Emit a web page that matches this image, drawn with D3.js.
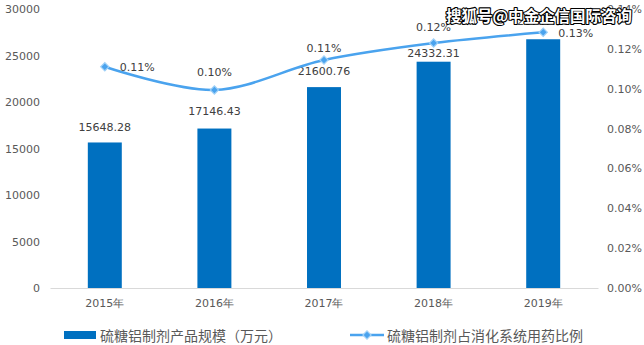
<!DOCTYPE html>
<html><head><meta charset="utf-8">
<script src="https://cdn.jsdelivr.net/npm/d3@7"></script>
<style>
html,body{margin:0;padding:0;background:#fff;}
svg{display:block;}
</style></head>
<body>
<svg id="chart" width="644" height="345"></svg>
<script>
const categories = ["2015年","2016年","2017年","2018年","2019年"];
const scaleValues = [15648.28, 17146.43, 21600.76, 24332.31, 26747.47];
const ratioValues = [0.111, 0.0994, 0.1144, 0.1229, 0.1283];
const ratioLabels = ["0.11%","0.10%","0.11%","0.12%","0.13%"];
const leftTicks = [0,5000,10000,15000,20000,25000,30000];
const rightTicks = [0,0.02,0.04,0.06,0.08,0.10,0.12,0.14];
const legendNames = ["硫糖铝制剂产品规模（万元）","硫糖铝制剂占消化系统用药比例"];
const watermark = "搜狐号@中金企信国际咨询";
const barLabelDy = [15, 17, 16, 8.5, 17.5];
const lineLabelDy = [0, 17, 12, 15.5, 0];

const svg = d3.select("#chart");
const numFont = "'DejaVu Sans', Verdana, sans-serif";
const cjkFont = "'Noto Sans CJK SC', 'Microsoft YaHei', sans-serif";
const barColor = "#0070C0", lineColor = "#4AA3EE";

const x = d3.scaleBand().domain(categories).range([50, 598]).paddingInner(0.69).paddingOuter(0.345);
const yL = d3.scaleLinear().domain([0,30000]).range([288, 9]);
const yR = d3.scaleLinear().domain([0,0.14]).range([288, 9]);

// left axis
const gL = svg.append("g").attr("transform","translate(44,0)")
  .call(d3.axisLeft(yL).tickValues(leftTicks).tickSize(0).tickPadding(4).tickFormat(d3.format("d")));
gL.select(".domain").remove();
gL.selectAll("text").attr("font-family",numFont).attr("font-size",11).attr("fill","#595959");

// right axis
const gR = svg.append("g").attr("transform","translate(603,0)")
  .call(d3.axisRight(yR).tickValues(rightTicks).tickSize(0).tickPadding(4).tickFormat(d => d.toFixed(2)+"%"));
gR.select(".domain").remove();
gR.selectAll("text").attr("font-family",numFont).attr("font-size",11).attr("fill","#595959");

// bottom axis
const gB = svg.append("g").attr("transform","translate(0,288)")
  .call(d3.axisBottom(x).tickSize(0).tickPadding(11));
gB.select(".domain").attr("stroke","#d9d9d9").attr("stroke-width",1);
gB.selectAll("text").attr("font-family",numFont).attr("font-size",11).attr("fill","#595959");

// bars
svg.append("g").selectAll("rect").data(scaleValues).join("rect")
  .attr("x",(d,i)=>x(categories[i]))
  .attr("y",d=>yL(d))
  .attr("width",x.bandwidth())
  .attr("height",d=>yL(0)-yL(d))
  .attr("fill",barColor);

// bar labels
svg.append("g").selectAll("text").data(scaleValues).join("text")
  .attr("x",(d,i)=>x(categories[i])+x.bandwidth()/2)
  .attr("y",(d,i)=>yL(d)-barLabelDy[i])
  .attr("text-anchor","middle").attr("dominant-baseline","central")
  .attr("font-family",numFont).attr("font-size",11).attr("fill","#404040")
  .text(d=>d.toFixed(2));

// line
const cx = i => x(categories[i]) + x.bandwidth()/2;
const line = d3.line().x((d,i)=>cx(i)).y(d=>yR(d)).curve(d3.curveCatmullRom.alpha(0.5));
svg.append("path").datum(ratioValues).attr("d",line)
  .attr("fill","none").attr("stroke",lineColor).attr("stroke-width",2.5);

svg.append("g").selectAll("path").data(ratioValues).join("path")
  .attr("d", d3.symbol().type(d3.symbolSquare).size(34))
  .attr("transform",(d,i)=>`translate(${cx(i)},${yR(d)}) rotate(45)`)
  .attr("fill",lineColor).attr("stroke","#9fd0f7").attr("stroke-width",1.2);

// line labels
const isSide = i => i===0 || i===ratioValues.length-1;
svg.append("g").selectAll("text").data(ratioValues).join("text")
  .attr("x",(d,i)=> isSide(i) ? cx(i)+15 : cx(i))
  .attr("y",(d,i)=> isSide(i) ? yR(d)+1 : yR(d)-lineLabelDy[i])
  .attr("text-anchor",(d,i)=> isSide(i) ? "start" : "middle")
  .attr("dominant-baseline","central")
  .attr("font-family",numFont).attr("font-size",11).attr("fill","#404040")
  .text((d,i)=>ratioLabels[i]);

// legend
const lg = svg.append("g");
lg.append("rect").attr("x",64).attr("y",331).attr("width",32).attr("height",8).attr("fill",barColor);
lg.append("text").attr("x",100).attr("y",335).attr("dominant-baseline","central")
  .attr("font-family",cjkFont).attr("font-size",14).attr("fill","#595959").text(legendNames[0]);
lg.append("line").attr("x1",350).attr("x2",384).attr("y1",335).attr("y2",335)
  .attr("stroke",lineColor).attr("stroke-width",2.5);
lg.append("path").attr("d", d3.symbol().type(d3.symbolSquare).size(34))
  .attr("transform","translate(367,335) rotate(45)")
  .attr("fill",lineColor).attr("stroke","#9fd0f7").attr("stroke-width",1.2);
lg.append("text").attr("x",387).attr("y",335).attr("dominant-baseline","central")
  .attr("font-family",cjkFont).attr("font-size",14).attr("fill","#595959").text(legendNames[1]);

// watermark
svg.append("text").attr("x",446).attr("y",15).attr("dominant-baseline","central")
  .attr("font-family",cjkFont).attr("font-size",15.5).attr("font-weight","bold")
  .attr("fill","#fff").attr("stroke","#000").attr("stroke-width",2.2)
  .attr("paint-order","stroke").attr("stroke-linejoin","round")
  .text(watermark);
</script>
</body></html>
